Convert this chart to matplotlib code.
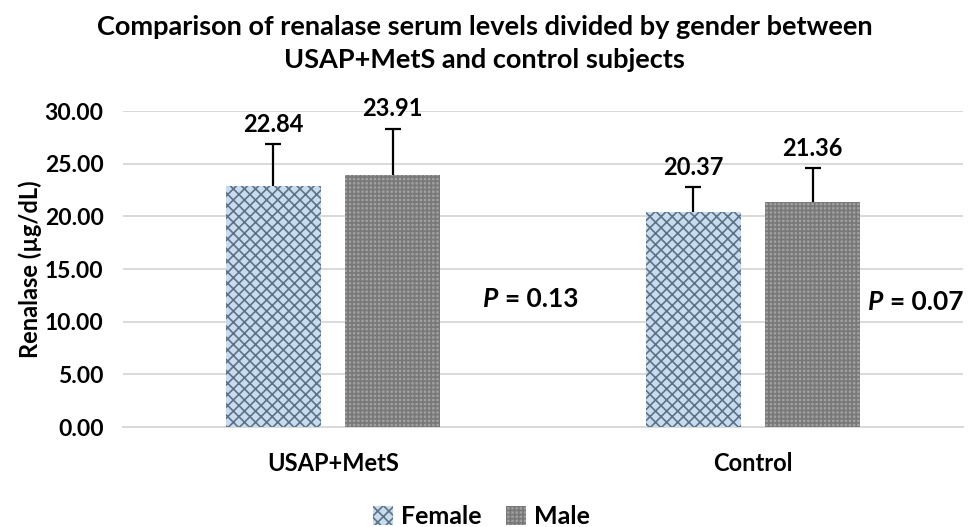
import matplotlib
matplotlib.use("Agg")
import matplotlib.pyplot as plt
import numpy as np

plt.rcParams['hatch.linewidth'] = 1.2
plt.rcParams['font.family'] = ['Lato', 'DejaVu Sans']

categories = ["USAP+MetS", "Control"]
female = [22.84, 20.37]
male = [23.91, 21.36]
female_err = [4.0, 2.4]
male_err = [4.4, 3.2]
p_values = ["0.13", "0.07"]
yticks = [0, 5, 10, 15, 20, 25, 30]

W, H = 969, 527
fig = plt.figure(figsize=(9.69, 5.27), dpi=100)
ax = fig.add_axes([123/W, 1-427/H, (963-123)/W, 316/H])

x = np.arange(len(categories))
w = 0.227
off = 0.142
bf = ax.bar(x - off, female, w, color='#c7dcf1', edgecolor='#5f7283', hatch='xxx', linewidth=0,
            label='Female', zorder=3)
bm = ax.bar(x + off, male, w, color='#a0a0a0', edgecolor='#787878', hatch='++++', linewidth=0,
            label='Male', zorder=3)

# upper-only error bars (cap only at the top)
for xs, vals, errs in [(x - off, female, female_err), (x + off, male, male_err)]:
    vals = np.asarray(vals)
    errs = np.asarray(errs)
    ax.vlines(xs, vals, vals + errs, color='black', linewidth=1.6, zorder=4)
    ax.plot(xs, vals + errs, linestyle='none', marker='_', markersize=11, markeredgewidth=1.6,
            color='black', zorder=4)

for i in range(len(categories)):
    ax.text(x[i] - off, female[i] + female_err[i] + 0.8, f"{female[i]:.2f}", ha='center', va='bottom',
            fontsize=17, fontweight='bold')
    ax.text(x[i] + off, male[i] + male_err[i] + 0.8, f"{male[i]:.2f}", ha='center', va='bottom',
            fontsize=17, fontweight='bold')

# P values (positions in figure pixels)
renderer = fig.canvas.get_renderer()
p_pos = [(483, H - 299), (868, H - 302)]
for (px, py), pv in zip(p_pos, p_values):
    tp = fig.text(px / W, py / H, "P", ha='left', va='center', fontsize=19, fontweight='bold',
                  fontstyle='italic')
    bb = tp.get_window_extent(renderer)
    fig.text((bb.x1 + 7) / W, py / H, f"= {pv}", ha='left', va='center', fontsize=19,
             fontweight='bold')

ax.set_xlim(-0.5, 1.5)
ax.set_ylim(0, 30)
ax.set_yticks(yticks)
ax.set_yticklabels([f"{v:.2f}" for v in yticks], fontsize=16.5, fontweight='bold')
ax.set_xticks(x)
ax.set_xticklabels(categories, fontsize=17, fontweight='bold')
ax.tick_params(axis='y', length=0, pad=14)
ax.tick_params(axis='x', length=0, pad=18)
ax.grid(axis='y', color='#d9d9d9', linewidth=1.4, zorder=0)
ax.set_axisbelow(True)
for s in ['top', 'right', 'left']:
    ax.spines[s].set_visible(False)
ax.spines['bottom'].set_color('#d9d9d9')
ax.spines['bottom'].set_linewidth(1.4)
ax.set_ylabel("Renalase (µg/dL)", fontsize=17, fontweight='bold', labelpad=2)

fig.suptitle("Comparison of renalase serum levels divided by gender between\nUSAP+MetS and control subjects",
             x=0.5, y=0.972, fontsize=19.5, fontweight='bold', linespacing=1.45)

fig.legend(handles=[bf, bm], labels=['Female', 'Male'], loc='center', bbox_to_anchor=(0.497, 1-517/H),
           ncol=2, frameon=False, prop={'weight': 'bold', 'size': 18},
           handlelength=0.8, handleheight=0.8, handletextpad=0.3, columnspacing=1.0)

fig.savefig("out.png", dpi=100)
